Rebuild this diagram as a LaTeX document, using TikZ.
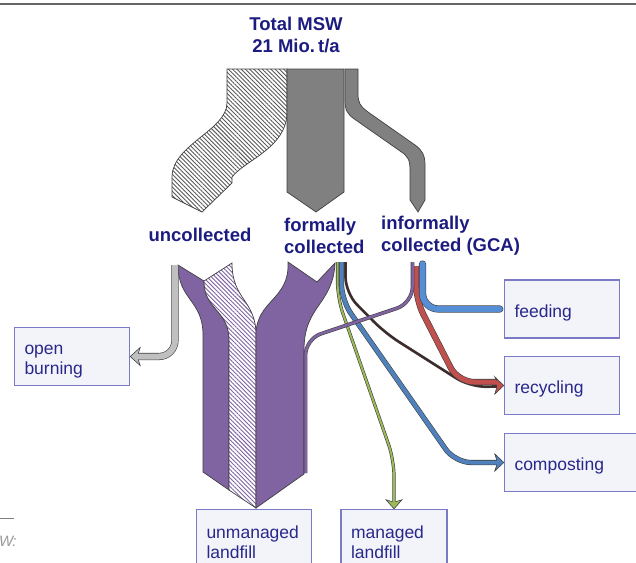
\documentclass[tikz,border=0pt]{standalone}
\usepackage{fontspec}
\setmainfont{Liberation Sans}
\usetikzlibrary{patterns.meta}

\definecolor{navytext}{RGB}{28,28,128}
\definecolor{boxtext}{RGB}{40,40,140}
\definecolor{boxline}{RGB}{122,122,198}
\definecolor{boxfill}{RGB}{243,243,250}
\definecolor{purpleflow}{RGB}{128,100,162}
\definecolor{grayflow}{RGB}{128,128,128}
\definecolor{lightflow}{RGB}{192,192,192}
\definecolor{feedblue}{RGB}{85,142,213}
\definecolor{compblue}{RGB}{79,129,189}
\definecolor{recred}{RGB}{192,80,77}
\definecolor{landgreen}{RGB}{155,187,89}
\definecolor{brownline}{RGB}{64,40,40}

\begin{document}
\begin{tikzpicture}[
    x = 1pt, y = -1pt,
    band/.style = {draw=black!75, line width=0.7pt},
    flow/.style 2 args = {draw=black!75, line width=0.6pt, double=#1, double distance=#2, rounded corners=16},
    head/.style = {draw=black!75, line width=0.6pt, fill=#1},
    hatch/.style = {preaction={fill=white}, pattern={Lines[angle=-45, distance=3pt, line width=0.9pt]}, pattern color=#1},
    flowlabel/.style = {text=navytext, inner sep=0, font=\fontsize{18.5}{22}\selectfont\bfseries},
    box/.style = {draw=boxline, fill=boxfill, line width=1.4pt, text=boxtext, font=\fontsize{17.5}{20}\selectfont,
                  align=left, minimum height=58, text width=95, inner xsep=10, inner ysep=4,
                  execute at begin node=\rule{0pt}{20pt}}]

\useasboundingbox (0,0) rectangle (636,562);
\clip (0,0) rectangle (636,562);

\draw[gray!80!black, line width=1.6pt] (0,4) -- (636,4);
\draw[gray, line width=0.8pt] (0,518) -- (14,518);
\node[anchor=west, inner sep=0, text=gray!80, font=\fontsize{15}{18}\selectfont\itshape] (cutoff) at (-1,541) {W\kern-1pt:};

% Labels
\node[flowlabel, align=center] (total) at (296,35) {Total MSW\\21 Mio.\,t/a};
\node[flowlabel] (uncollected) at (200,235) {uncollected};
\node[flowlabel, anchor=west, align=left] (formal) at (284,236) {formally\\collected};
\node[flowlabel, anchor=west, align=left] (informal) at (381,236) {informally\\collected (GCA)};

% Boxes
\node[box] (feeding) at (562,309) {feeding};
\node[box] (recycling) at (562,385.5) {recycling};
\node[box, text width=125] (composting) at (577,462.5) {composting};
\node[box] (burning) at (72,356.5) {open\\burning};
\node[box] (unmanaged) at (254,538.5) {unmanaged\\landfill};
\node[box, text width=86] (managed) at (394,538.5) {managed\\landfill};

% Total MSW split
\draw[band, hatch=gray!70!black] (227,69) -- (287,69) -- (287,112) .. controls (287,148) and (245,160) .. (232,177)
    -- (232,183) -- (202,212) -- (172,197) -- (172,177) .. controls (172,145) and (227,130) .. (227,103) -- cycle;
\draw[band, fill=grayflow] (287,69) -- (344,69) -- (344,192) -- (316,212) -- (287,192) -- cycle;
\draw[band, fill=grayflow] (345,69) -- (345,100) .. controls (345,110) and (347,114) .. (355,119.5) -- (400,151)
    .. controls (408,156) and (410,160) .. (410,170) -- (410,200) -- (418,212) -- (425,200) -- (425,165)
    .. controls (425,155) and (422,150) .. (415,145) -- (368,112) .. controls (360,106) and (358,103) .. (358,93)
    -- (358,69) -- cycle;

% Uncollected and formal to unmanaged landfill
\draw[band, fill=purpleflow] (178,265) -- (204,281) .. controls (204,310) and (229,310) .. (229,340) -- (229,490)
    -- (203,472) -- (203,335) .. controls (203,300) and (178,300) .. (178,265) -- cycle;
\draw[band, hatch=purpleflow] (204,281) -- (232,263) .. controls (232,300) and (256,300) .. (256,335) -- (256,508)
    -- (229,490) -- (229,340) .. controls (229,310) and (204,310) .. (204,281) -- cycle;
\draw[band, fill=purpleflow] (288,262) -- (317,282) -- (335,263) .. controls (333,305) and (304,305) .. (304,350)
    -- (304,474) -- (256,508) -- (256,335) .. controls (256,300) and (290,300) .. (288,262) -- cycle;

% Open burning
\draw[flow={lightflow}{6}] (175,265) -- (175,356.5) -- ([shift={(8,0)}]burning.east);
\draw[head=lightflow] ([shift={(8,-3)}]burning.east) -- ([shift={(10,-9)}]burning.east) -- (burning.east)
    -- ([shift={(10,9)}]burning.east) -- ([shift={(8,3)}]burning.east);

% Formal to managed landfill, composting, recycling
\draw[flow={landgreen}{2}] (337.5,262) -- (337.5,298) -- (394,460) -- ([shift={(0,-7)}]managed.north);
\draw[head=landgreen] ([shift={(-1.5,-7)}]managed.north) -- ([shift={(-8,-9)}]managed.north) -- (managed.north)
    -- ([shift={(8,-9)}]managed.north) -- ([shift={(1.5,-7)}]managed.north);
\draw[flow={compblue}{4}] (341.5,262) -- (341.5,300) -- (455,462.5) -- ([shift={(-7,0)}]composting.west);
\draw[head=compblue] ([shift={(-7,-2.5)}]composting.west) -- ([shift={(-9,-8.5)}]composting.west) -- (composting.west)
    -- ([shift={(-9,8.5)}]composting.west) -- ([shift={(-7,2.5)}]composting.west);
\draw[flow={brownline}{1.5}] (345.5,262) -- (345.5,293) -- (385,333) -- (470,387) -- ([shift={(-7,1)}]recycling.west);

% Informal to recycling, feeding, unmanaged landfill
\draw[flow={recred}{5}] (416,266) -- (416,300) -- (458,382) -- ([shift={(-7,-3.5)}]recycling.west);
\draw[head=recred] ([shift={(-7,-5)}]recycling.west) -- ([shift={(-9,-8.5)}]recycling.west) -- (recycling.west)
    -- ([shift={(-9,8.5)}]recycling.west) -- ([shift={(-7,2)}]recycling.west);
\draw[flow={feedblue}{6}, line cap=round] (422.5,264) -- (422.5,309) -- ([shift={(-4,0)}]feeding.west);
\draw[flow={purpleflow}{2.5}] (412.5,262) -- (412.5,303) -- (305.5,339) -- (305.5,473);

\end{tikzpicture}
\end{document}
